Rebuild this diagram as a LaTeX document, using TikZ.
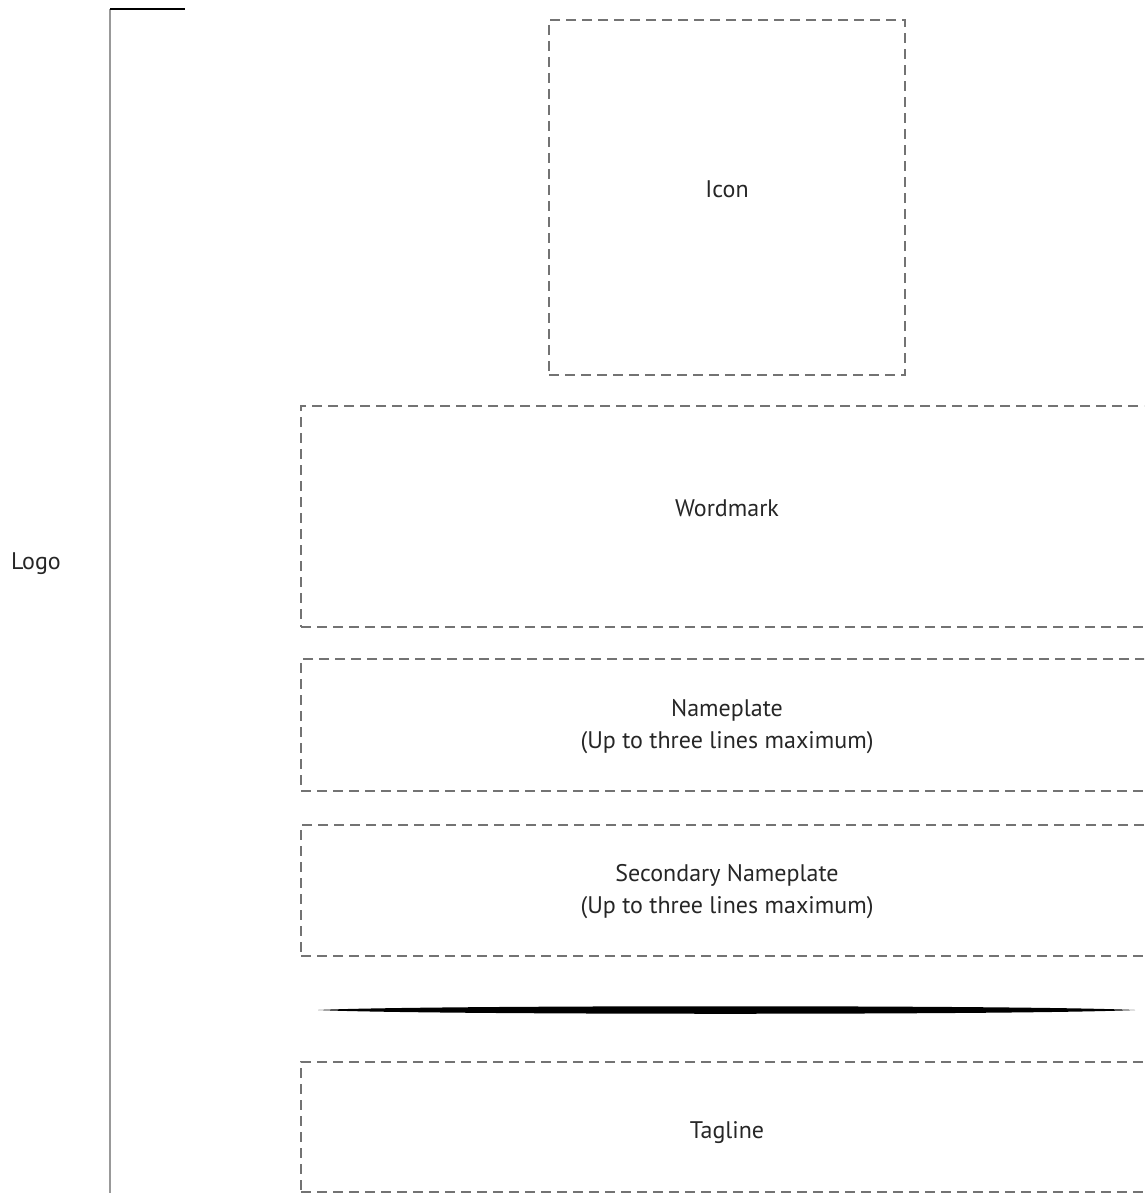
\documentclass[tikz,border=0pt]{standalone}
\usepackage{fontspec}
\setmainfont{PT Sans}
\usepackage{tikz}
\usetikzlibrary{calc}

\begin{document}
\begin{tikzpicture}[x=1pt,y=-1pt,
  area/.style={draw=black!55,line width=1.4pt,dash pattern=on 10pt off 6pt,minimum width=#1},
  lbl/.style={text=black!85,font=\fontsize{24}{32}\selectfont,align=center}]
  \useasboundingbox (0,0) rectangle (1144,1193);
  \clip (0,0) rectangle (1144,1193);
  % bracket on the left
  \coordinate (top) at (110,9);
  \coordinate (bot) at (110,1200);
  \draw[black!40,line width=1.6pt](top)--(bot);
  \draw[line width=2.6pt](top)--++(75,0);
  \node[lbl] (logo) at (36,564) {Logo};
  % dashed areas
  \node[area=356,minimum height=355] (icon) at (727,197.5) {};
  \node[area=852,minimum height=221] (wordmark) at (727,516.5) {};
  \node[area=852,minimum height=132] (nameplate) at (727,725) {};
  \node[area=852,minimum height=131] (secondary) at (727,890.5) {};
  \node[area=852,minimum height=130] (tagline) at (727,1127) {};
  \node[lbl] at (727,189) {Icon};
  \node[lbl] at (727,508) {Wordmark};
  \node[lbl] at (727,727) {Nameplate\\(Up to three lines maximum)};
  \node[lbl] at (727,892) {Secondary Nameplate\\(Up to three lines maximum)};
  \node[lbl] at (727,1133) {Tagline};
  % tapered rule
  \fill (318,1010) .. controls (420,1005) and (1030,1005) .. (1135,1010)
    .. controls (1030,1015) and (420,1015) .. (318,1010) -- cycle;
\end{tikzpicture}
\end{document}
